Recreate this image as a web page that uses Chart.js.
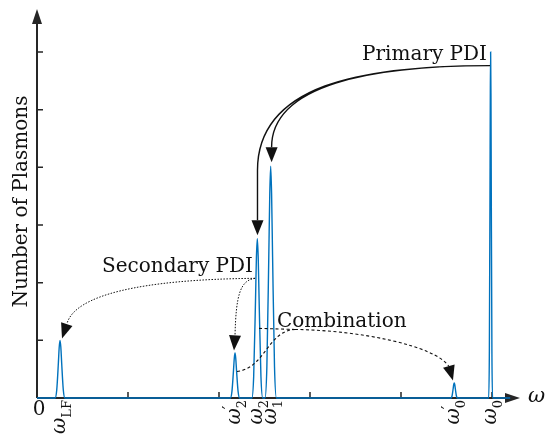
<!DOCTYPE html>
<html>
<head>
<meta charset="utf-8">
<script src="https://cdn.jsdelivr.net/npm/chart.js@4/dist/chart.umd.min.js"></script>
<style>
  html, body { margin: 0; padding: 0; background: #fff; }
  #wrap { width: 546px; height: 435px; }
</style>
</head>
<body>
<div id="wrap"><canvas id="chart" width="546" height="435"></canvas></div>
<script>
// Plasmon spectrum: frequency (one unlabeled tick per unit) vs number of plasmons
const omega = [
  0,
  0.199, 0.217, 0.235, 0.244, 0.253, 0.262, 0.271, 0.289, 0.307,
  2.125, 2.142, 2.159, 2.168, 2.176, 2.184, 2.193, 2.210, 2.227,
  2.361, 2.381, 2.401, 2.411, 2.421, 2.431, 2.441, 2.461, 2.481,
  2.505, 2.526, 2.547, 2.558, 2.568, 2.578, 2.589, 2.610, 2.631,
  4.549, 4.561, 4.573, 4.579, 4.585, 4.591, 4.597, 4.609, 4.621,
  4.964, 4.971, 4.978, 4.9815, 4.985, 4.9885, 4.992, 4.999, 5.006,
  5.2
];
const plasmons = [
  0,
  0, 0.14, 0.61, 0.88, 1.00, 0.88, 0.61, 0.14, 0,
  0, 0.11, 0.47, 0.69, 0.78, 0.69, 0.47, 0.11, 0,
  0, 0.37, 1.68, 2.43, 2.76, 2.43, 1.68, 0.37, 0,
  0, 0.54, 2.44, 3.54, 4.02, 3.54, 2.44, 0.54, 0,
  0, 0.035, 0.16, 0.23, 0.26, 0.23, 0.16, 0.035, 0,
  0, 0.81, 3.64, 5.28, 6.00, 5.28, 3.64, 0.81, 0,
  0
];

// peak positions and their tick labels
const peakOmega = [0.253, 2.176, 2.421, 2.568, 4.585, 4.985];
const peakSub = ['LF', '2', '2', '1', '0', '0'];
const peakPrime = [false, true, false, false, true, false];

const xTicks = [1, 2, 3, 4, 5];
const yTicks = [1, 2, 3, 4, 5, 6];

const AXIS = '#262626';
const SERIF = '"DejaVu Serif", "Liberation Serif", serif';

function arrowHead(ctx, from, tip, len, half) {
  const dx = tip[0] - from[0], dy = tip[1] - from[1];
  const d = Math.hypot(dx, dy);
  const ux = dx / d, uy = dy / d;
  const bx = tip[0] - ux * len, by = tip[1] - uy * len;
  ctx.beginPath();
  ctx.moveTo(tip[0], tip[1]);
  ctx.lineTo(bx - uy * half, by + ux * half);
  ctx.lineTo(bx + uy * half, by - ux * half);
  ctx.closePath();
  ctx.fill();
}

function bez(ctx, p) {
  ctx.moveTo(p[0][0], p[0][1]);
  ctx.bezierCurveTo(p[1][0], p[1][1], p[2][0], p[2][1], p[3][0], p[3][1]);
}

function rotLabel(ctx, x, y, sub, prime) {
  ctx.save();
  ctx.translate(x + 5, y);
  ctx.rotate(-Math.PI / 2);
  ctx.textAlign = 'left';
  ctx.textBaseline = 'alphabetic';
  ctx.font = 'italic 20px ' + SERIF;
  const wb = ctx.measureText('ω').width;
  ctx.font = '13px ' + SERIF;
  const ws = ctx.measureText(sub).width;
  const x0 = -(wb + ws);
  ctx.font = 'italic 20px ' + SERIF;
  ctx.fillText('ω', x0, 0);
  ctx.font = '13px ' + SERIF;
  ctx.fillText(sub, x0 + wb, 6);
  if (prime) {
    ctx.font = '16px ' + SERIF;
    ctx.fillText('′', x0 + wb - 1, -6);
  }
  ctx.restore();
}

const axesPlugin = {
  id: 'axesPlugin',
  beforeDatasetsDraw(chart) {
    const { ctx, chartArea: a, scales: { x, y } } = chart;
    const x0 = x.getPixelForValue(0), y0 = y.getPixelForValue(0);
    ctx.save();
    ctx.strokeStyle = AXIS;
    ctx.fillStyle = AXIS;
    ctx.lineWidth = 2;
    ctx.beginPath();
    ctx.moveTo(x0, y0);
    ctx.lineTo(x0, a.top + 12);
    ctx.moveTo(x0, y0);
    ctx.lineTo(a.right - 12, y0);
    ctx.stroke();
    arrowHead(ctx, [x0, y0], [x0, a.top], 15, 5);
    arrowHead(ctx, [x0, y0], [a.right, y0], 15, 5);
    ctx.lineWidth = 1.5;
    ctx.beginPath();
    xTicks.forEach(v => {
      const px = x.getPixelForValue(v);
      ctx.moveTo(px, y0);
      ctx.lineTo(px, y0 - 6);
    });
    yTicks.forEach(v => {
      const py = y.getPixelForValue(v);
      ctx.moveTo(x0, py);
      ctx.lineTo(x0 + 6, py);
    });
    ctx.stroke();
    ctx.restore();
  },
  afterDatasetsDraw(chart) {
    const { ctx, chartArea: a, scales: { x, y } } = chart;
    const P = (u, v) => [x.getPixelForValue(u), y.getPixelForValue(v)];
    const y0 = y.getPixelForValue(0);
    ctx.save();
    ctx.fillStyle = '#111';
    ctx.strokeStyle = '#111';

    // axis texts
    ctx.font = '20px ' + SERIF;
    ctx.textAlign = 'center';
    ctx.textBaseline = 'middle';
    ctx.fillText('0', x.getPixelForValue(0) + 2, y0 + 12);
    ctx.font = 'italic 21px ' + SERIF;
    ctx.textAlign = 'left';
    ctx.fillText('ω', a.right + 8, y0 - 1);
    ctx.save();
    ctx.translate(27, (a.top + y0) / 2 - 2);
    ctx.rotate(-Math.PI / 2);
    ctx.font = '20px ' + SERIF;
    ctx.textAlign = 'center';
    ctx.textBaseline = 'alphabetic';
    ctx.fillText('Number of Plasmons', 0, 0);
    ctx.restore();

    peakOmega.forEach((w, i) => {
      rotLabel(ctx, x.getPixelForValue(w), y0 + 2, peakSub[i], peakPrime[i]);
    });

    // Primary PDI
    ctx.font = '20px ' + SERIF;
    ctx.textAlign = 'right';
    ctx.textBaseline = 'alphabetic';
    let p = P(4.945, 5.859);
    ctx.fillText('Primary PDI', p[0], p[1]);
    ctx.lineWidth = 1.4;
    ctx.setLineDash([]);
    const outer = [P(4.978, 5.764), P(3.549, 5.764), P(2.423, 5.425), P(2.423, 3.95)];
    const outerEnd = P(2.423, 3.082);
    const inner = [P(4.978, 5.764), P(3.659, 5.764), P(2.578, 5.425), P(2.578, 4.349)];
    ctx.beginPath();
    bez(ctx, outer);
    ctx.lineTo(outerEnd[0], outerEnd[1]);
    bez(ctx, inner);
    ctx.stroke();
    arrowHead(ctx, outerEnd, P(2.423, 2.821), 15, 6);
    arrowHead(ctx, inner[3], P(2.578, 4.089), 15, 6);

    // Secondary PDI
    ctx.textAlign = 'left';
    p = P(0.714, 2.179);
    ctx.fillText('Secondary PDI', p[0], p[1]);
    ctx.lineWidth = 1;
    ctx.setLineDash([1.5, 1.5]);
    const secL = [P(2.396, 2.075), P(1.132, 2.057), P(0.418, 1.78), P(0.33, 1.293)];
    const secR = [P(2.396, 2.075), P(2.231, 2.04), P(2.187, 1.78), P(2.176, 1.085)];
    ctx.beginPath();
    bez(ctx, secL);
    bez(ctx, secR);
    ctx.stroke();
    ctx.setLineDash([]);
    arrowHead(ctx, secL[3], P(0.275, 1.033), 15, 6);
    arrowHead(ctx, secR[3], P(2.165, 0.825), 15, 6);

    // Combination
    p = P(2.637, 1.224);
    ctx.fillText('Combination', p[0], p[1]);
    ctx.lineWidth = 1.1;
    ctx.setLineDash([3, 2.5]);
    const combA = [P(2.198, 0.46), P(2.505, 0.512), P(2.538, 1.172), P(2.835, 1.189)];
    const combB = [P(2.835, 1.189), P(3.549, 1.172), P(4.374, 0.911), P(4.527, 0.547)];
    const hStart = P(2.44, 1.207);
    ctx.beginPath();
    ctx.moveTo(hStart[0], hStart[1]);
    ctx.lineTo(combA[3][0], combA[3][1]);
    bez(ctx, combA);
    bez(ctx, combB);
    ctx.stroke();
    ctx.setLineDash([]);
    arrowHead(ctx, combB[3], P(4.571, 0.304), 15, 6);

    ctx.restore();
  }
};

new Chart(document.getElementById('chart'), {
  type: 'line',
  data: {
    datasets: [{
      data: omega.map((w, i) => ({ x: w, y: plasmons[i] })),
      borderColor: '#0072BD',
      borderWidth: 1.4,
      pointRadius: 0,
      cubicInterpolationMode: 'monotone',
      fill: false,
      clip: false
    }]
  },
  options: {
    responsive: false,
    animation: false,
    layout: { padding: { left: 37, right: 26, top: 9, bottom: 37 } },
    plugins: { legend: { display: false }, tooltip: { enabled: false } },
    scales: {
      x: { type: 'linear', min: 0, max: 5.3077, display: false },
      y: { type: 'linear', min: 0, max: 6.745, display: false }
    }
  },
  plugins: [axesPlugin]
});
</script>
</body>
</html>
